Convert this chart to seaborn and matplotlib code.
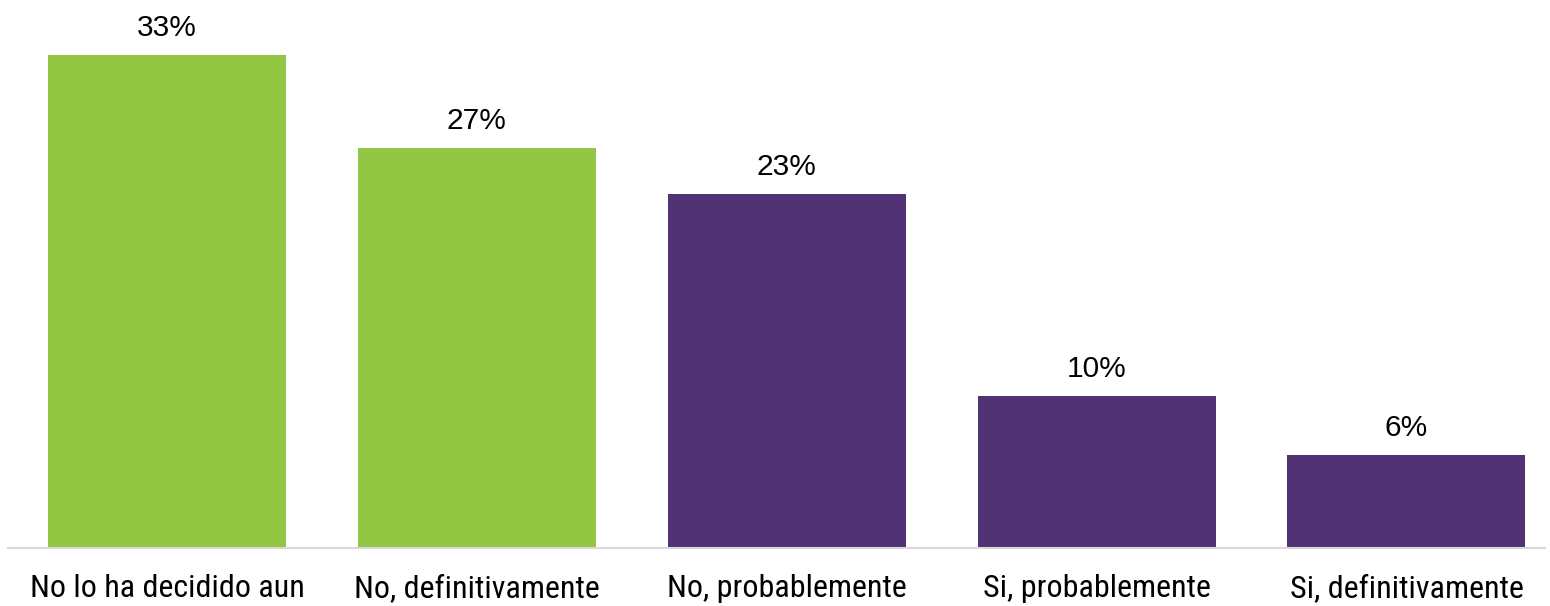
import pandas as pd
import seaborn as sns
import matplotlib.pyplot as plt

categories = ["No lo ha decidido aun", "No, definitivamente", "No, probablemente",
              "Si, probablemente", "Si, definitivamente"]
values = [33.0, 26.8, 23.7, 10.2, 6.2]
value_labels = ["33%", "27%", "23%", "10%", "6%"]
groups = ["green", "green", "purple", "purple", "purple"]

sns.set_theme(style="white")
plt.rcParams['font.family'] = ['Liberation Sans', 'DejaVu Sans']

df = pd.DataFrame({"cat": categories, "val": values, "grp": groups})
palette = {"green": "#93c643", "purple": "#503275"}

fig = plt.figure(figsize=(15.5, 6.06), dpi=100)
ax = fig.add_axes([8 / 1550, 58 / 606, 1537 / 1550, 548 / 606])
sns.barplot(data=df, x="cat", y="val", hue="grp", palette=palette,
            dodge=False, width=0.768, legend=False, ax=ax, saturation=1,
            linewidth=0)

# value labels above each bar
for i, (v, lab) in enumerate(zip(values, value_labels)):
    ax.text(i, v + 1.27, lab, ha="center", va="baseline", fontsize=21.5, color="black")

ax.set_xticks(range(len(categories)))
ax.set_xticklabels(categories, fontsize=23, family=['Roboto Condensed', 'DejaVu Sans'],
                   color="black")
ax.tick_params(axis="x", length=0, pad=19)
ax.set_yticks([])
ax.set_xlabel("")
ax.set_ylabel("")
ax.set_xlim(-0.513, 4.447)
ax.set_ylim(0, 36.7)
for s in ["top", "left", "right"]:
    ax.spines[s].set_visible(False)
ax.spines["bottom"].set_color("#d9d9d9")
ax.spines["bottom"].set_linewidth(1.5)

fig.savefig("out.png", dpi=100)
